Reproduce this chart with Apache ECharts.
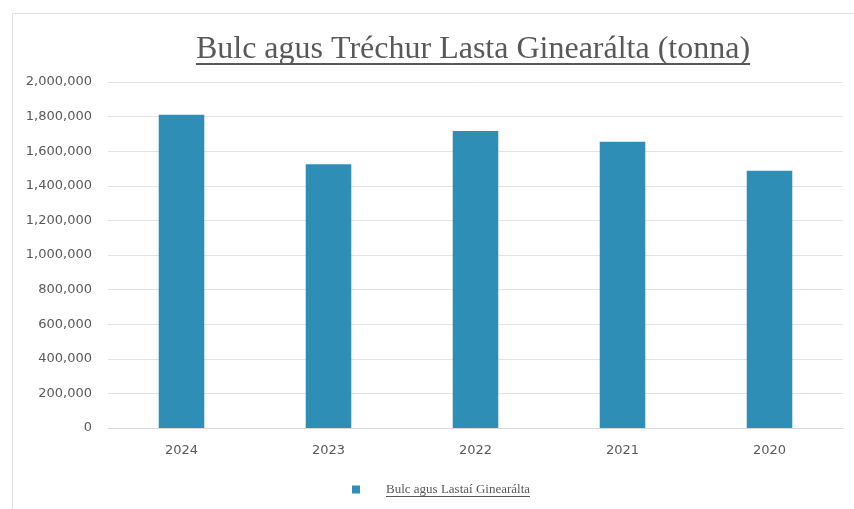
<!DOCTYPE html>
<html>
<head>
<meta charset="utf-8">
<script src="https://cdn.jsdelivr.net/npm/echarts@6/dist/echarts.min.js"></script>
<style>
  html, body { margin: 0; padding: 0; background: #fff; }
  #chart { width: 854px; height: 509px; }
</style>
</head>
<body>
<div id="chart"></div>
<script>
const titleText = 'Bulc agus Tréchur Lasta Ginearálta (tonna)';
const seriesName = 'Bulc agus Lastaí Ginearálta';
const years = ['2024', '2023', '2022', '2021', '2020'];
const tonnes = [1810000, 1525000, 1717000, 1655000, 1487000];
const yTicks = { min: 0, max: 2000000, interval: 200000 };

const barColor = '#2e8eb6';
const textGrey = '#595959';
const serif = '"Liberation Serif", "Times New Roman", serif';

// measure text so the underlines fit the rendered words
const ctx = document.createElement('canvas').getContext('2d');
function textWidth(str, size) {
  ctx.font = size + 'px ' + serif;
  return ctx.measureText(str).width;
}

const titleSize = 32;
const titleCenter = 473;
const titleW = textWidth(titleText, titleSize);
const titleLeft = titleCenter - titleW / 2;

const legendSize = 13;
const legendTextLeft = 386;
const legendW = textWidth(seriesName, legendSize);

const chart = echarts.init(document.getElementById('chart'));

const option = {
  animation: false,
  title: {
    text: titleText,
    left: titleLeft,
    top: 34,
    padding: 0,
    textStyle: {
      fontFamily: serif,
      fontSize: titleSize,
      fontWeight: 'normal',
      color: textGrey
    }
  },
  legend: {
    data: [seriesName],
    left: 352,
    top: 483,
    padding: 0,
    icon: 'path://M0,0H8V8H0Z',
    itemWidth: 8,
    itemHeight: 8,
    textStyle: {
      fontFamily: serif,
      fontSize: legendSize,
      color: textGrey,
      padding: [0, 0, 0, legendTextLeft - 352 - 8 - 5]
    }
  },
  grid: {
    left: 108,
    right: 11,
    top: 82,
    bottom: 81
  },
  xAxis: {
    type: 'category',
    data: years,
    axisLine: { lineStyle: { color: '#d9d9d9' } },
    axisTick: { show: false },
    axisLabel: {
      color: textGrey,
      fontFamily: '"DejaVu Sans", sans-serif',
      fontSize: 13,
      margin: 16
    }
  },
  yAxis: {
    type: 'value',
    min: yTicks.min,
    max: yTicks.max,
    interval: yTicks.interval,
    axisLine: { show: false },
    axisTick: { show: false },
    splitLine: { lineStyle: { color: '#e3e3e3' } },
    axisLabel: {
      color: textGrey,
      fontFamily: '"DejaVu Sans", sans-serif',
      fontSize: 13,
      margin: 16,
      formatter: v => v.toLocaleString('en-US')
    }
  },
  series: [
    {
      name: seriesName,
      type: 'bar',
      data: tonnes,
      barWidth: '31%',
      itemStyle: { color: barColor }
    }
  ],
  graphic: [
    {
      type: 'rect',
      silent: true,
      shape: { x: 12.5, y: 13.5, width: 900, height: 600 },
      style: { fill: 'none', stroke: '#e0e0e0', lineWidth: 1 }
    },
    {
      type: 'line',
      silent: true,
      shape: { x1: titleLeft, y1: 64, x2: titleLeft + titleW, y2: 64 },
      style: { stroke: textGrey, lineWidth: 2 }
    },
    {
      type: 'line',
      silent: true,
      shape: { x1: legendTextLeft, y1: 496.5, x2: legendTextLeft + legendW, y2: 496.5 },
      style: { stroke: textGrey, lineWidth: 1 }
    }
  ]
};

chart.setOption(option);

window.addEventListener('resize', () => chart.resize());
</script>
</body>
</html>
